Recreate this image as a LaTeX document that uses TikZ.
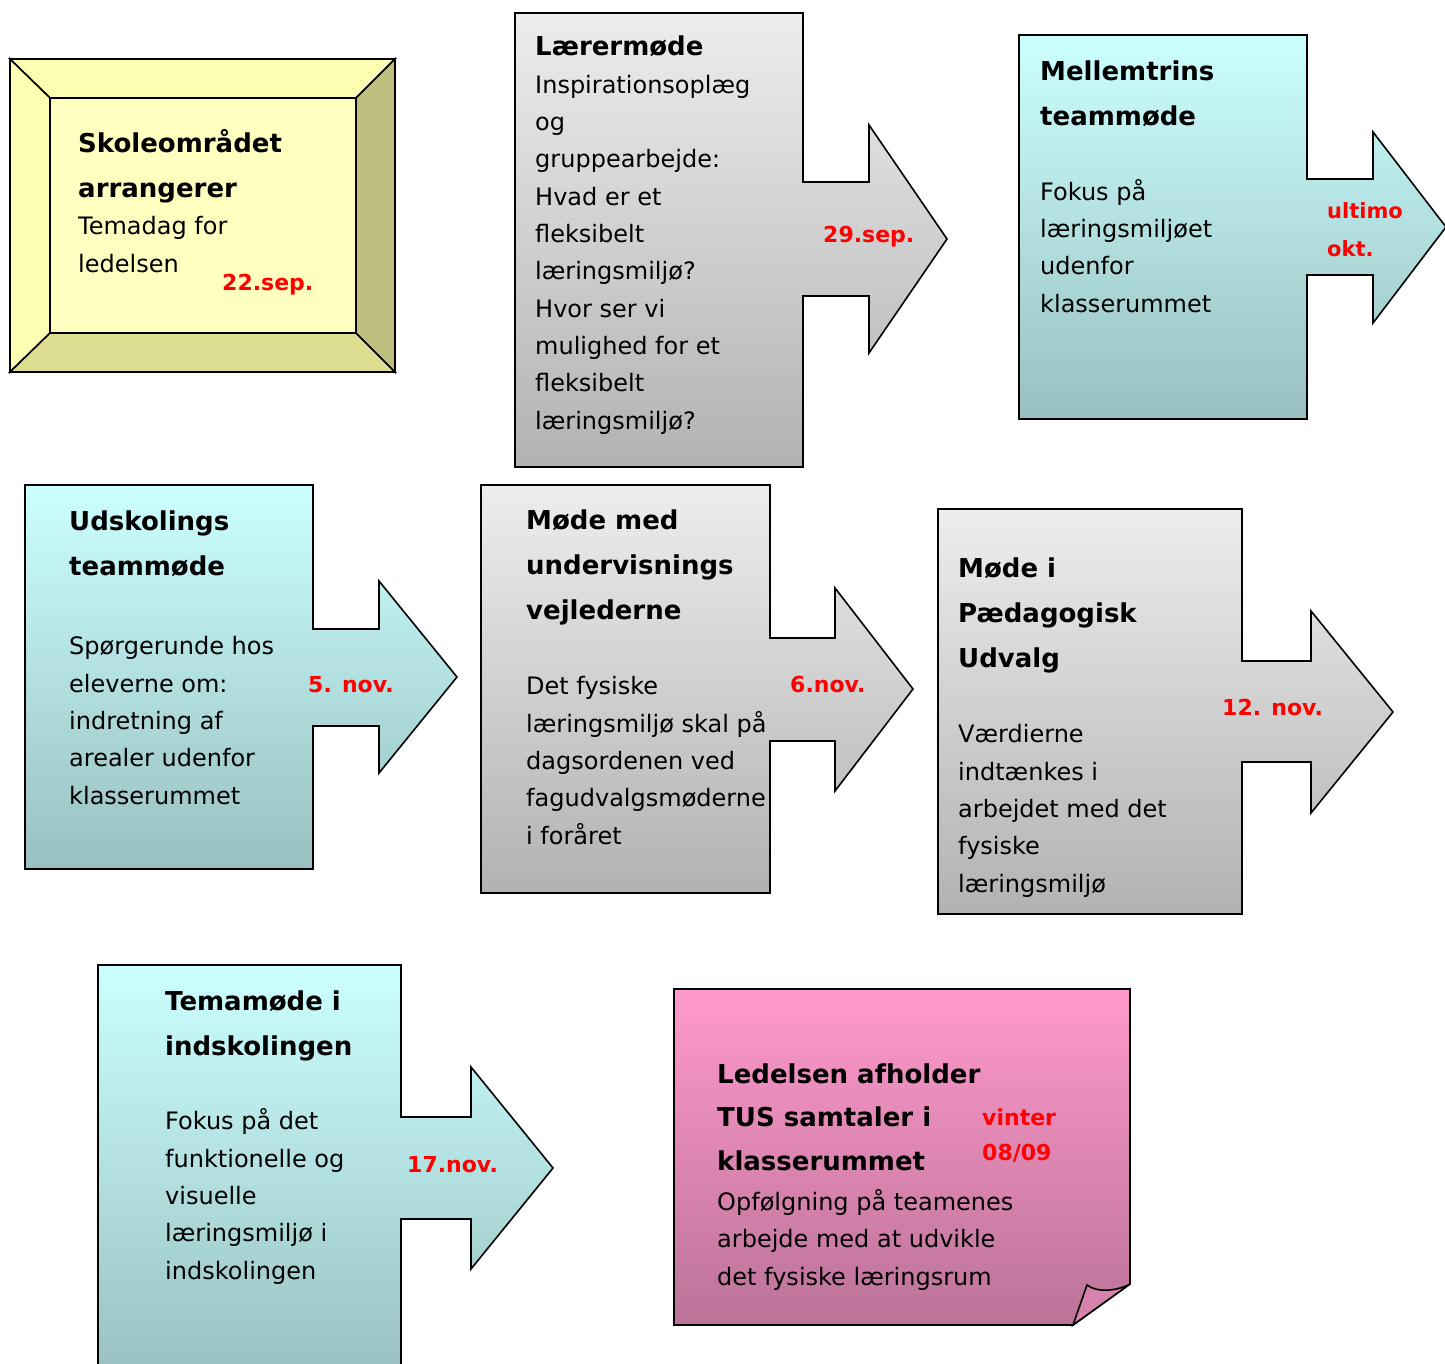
\documentclass[tikz,border=0pt]{standalone}
\usepackage{fontspec}
\setmainfont{DejaVu Sans}

\definecolor{cyantop}{HTML}{CCFFFF}
\definecolor{cyanbot}{HTML}{99C0C0}
\definecolor{graytop}{HTML}{EDEDED}
\definecolor{graybot}{HTML}{B2B2B2}
\definecolor{pinktop}{HTML}{FF99CC}
\definecolor{pinkbot}{HTML}{BB7398}
\definecolor{foldpink}{HTML}{D682AD}
\definecolor{bevcenter}{HTML}{FFFFC0}
\definecolor{bevlight}{HTML}{FFFFB3}
\definecolor{bevbottom}{HTML}{DEDE92}
\definecolor{bevright}{HTML}{BFBF80}
\definecolor{datered}{HTML}{FF0000}

% text nodes are placed at the baseline of their last line
\tikzset{
  outline/.style={draw=black, line width=1.6pt, line join=miter},
  cyanbox/.style={outline, top color=cyantop, bottom color=cyanbot},
  graybox/.style={outline, top color=graytop, bottom color=graybot},
  pinkbox/.style={outline, top color=pinktop, bottom color=pinkbot},
  heading/.style={anchor=base west, inner sep=0pt, align=left, font=\bfseries\fontsize{26}{45}\selectfont},
  bodytext/.style={anchor=base west, inner sep=0pt, align=left, font=\fontsize{24}{37.3}\selectfont},
  datetext/.style={anchor=base west, inner sep=0pt, align=left, text=datered, font=\bfseries\fontsize{22}{38}\selectfont}
}

\begin{document}
\begin{tikzpicture}[x=1pt,y=-1pt]
        \useasboundingbox (0,0) rectangle (1445,1363);
        \clip (0,0) rectangle (1445,1363);

        \filldraw[outline, fill=bevlight] (10,59) -- (395,59) -- (356,98) -- (50,98) -- cycle;
        \filldraw[outline, fill=bevlight] (10,59) -- (50,98) -- (50,333) -- (10,372) -- cycle;
        \filldraw[outline, fill=bevbottom] (10,372) -- (50,333) -- (356,333) -- (395,372) -- cycle;
        \filldraw[outline, fill=bevright] (395,59) -- (395,372) -- (356,333) -- (356,98) -- cycle;
        \filldraw[outline, fill=bevcenter] (50,98) rectangle (356,333);
        \node[heading] (skoletitle) at (78,197) {Skoleområdet\\arrangerer};
        \node[bodytext] (skolebody) at (78,272) {Temadag for\\ledelsen};
        \node[datetext] (skoledate) at (222,290) {22.sep.};

        \path[graybox] (515,13) -- (803,13) -- (803,182) -- (869,182) -- (869,125) -- (947,239)
            -- (869,353) -- (869,296) -- (803,296) -- (803,467) -- (515,467) -- cycle;
        \node[heading] (laerertitle) at (535,55) {Lærermøde};
        \node[bodytext] (laererbody) at (535,429) {Inspirationsoplæg\\og\\gruppearbejde:\\Hvad er et\\fleksibelt\\læringsmiljø?\\Hvor ser vi\\mulighed for et\\fleksibelt\\læringsmiljø?};
        \node[datetext] (laererdate) at (823,242) {29.sep.};

        \path[cyanbox] (1019,35) -- (1307,35) -- (1307,179) -- (1373,179) -- (1373,132) -- (1446,227)
            -- (1373,323) -- (1373,275) -- (1307,275) -- (1307,419) -- (1019,419) -- cycle;
        \node[heading] (melltitle) at (1040,125) {Mellemtrins\\teammøde};
        \node[bodytext] (mellbody) at (1040,312) {Fokus på\\læringsmiljøet\\udenfor\\klasserummet};
        \node[datetext, font=\bfseries\fontsize{21}{38}\selectfont] (melldate) at (1327,256) {ultimo\\okt.};

        \path[cyanbox] (25,485) -- (313,485) -- (313,629) -- (379,629) -- (379,581) -- (457,677)
            -- (379,773) -- (379,726) -- (313,726) -- (313,869) -- (25,869) -- cycle;
        \node[heading] (udsktitle) at (69,575) {Udskolings\\teammøde};
        \node[bodytext] (udskbody) at (69,804) {Spørgerunde hos\\eleverne om:\\indretning af\\arealer udenfor\\klasserummet};
        \node[datetext] (udskdate) at (308,692) {5. nov.};

        \path[graybox] (481,485) -- (770,485) -- (770,638) -- (835,638) -- (835,588) -- (913,689)
            -- (835,791) -- (835,741) -- (770,741) -- (770,893) -- (481,893) -- cycle;
        \node[heading] (vejltitle) at (526,619) {Møde med\\undervisnings\\vejlederne};
        \node[bodytext] (vejlbody) at (526,844) {Det fysiske\\læringsmiljø skal på\\dagsordenen ved\\fagudvalgsmøderne\\i foråret};
        \node[datetext] (vejldate) at (790,692) {6.nov.};

        \path[graybox] (938,509) -- (1242,509) -- (1242,661) -- (1311,661) -- (1311,611) -- (1393,712)
            -- (1311,813) -- (1311,762) -- (1242,762) -- (1242,914) -- (938,914) -- cycle;
        \node[heading] (paedtitle) at (958,667) {Møde i\\Pædagogisk\\Udvalg};
        \node[bodytext] (paedbody) at (958,892) {Værdierne\\indtænkes i\\arbejdet med det\\fysiske\\læringsmiljø};
        \node[datetext] (paeddate) at (1222,715) {12. nov.};

        \path[cyanbox] (98,965) -- (401,965) -- (401,1117) -- (471,1117) -- (471,1067) -- (553,1168)
            -- (471,1269) -- (471,1219) -- (401,1219) -- (401,1380) -- (98,1380) -- cycle;
        \node[heading] (indsktitle) at (165,1055) {Temamøde i\\indskolingen};
        \node[bodytext] (indskbody) at (165,1279) {Fokus på det\\funktionelle og\\visuelle\\læringsmiljø i\\indskolingen};
        \node[datetext] (indskdate) at (407,1172) {17.nov.};

        \path[pinkbox] (674,989) -- (1130,989) -- (1130,1284) -- (1073,1325) -- (674,1325) -- cycle;
        \filldraw[outline, fill=foldpink] (1073,1325) -- (1087,1285) .. controls (1097,1293) and (1117,1291) .. (1130,1284) -- cycle;
        \node[heading, font=\bfseries\fontsize{26}{43.5}\selectfont] (tustitle) at (717,1170) {Ledelsen afholder\\TUS samtaler i\\klasserummet};
        \node[bodytext] (tusbody) at (717,1285) {Opfølgning på teamenes\\arbejde med at udvikle\\det fysiske læringsrum};
        \node[datetext, font=\bfseries\fontsize{22}{35}\selectfont] (tusdate) at (982,1160) {vinter\\08/09};
    \end{tikzpicture}
\end{document}
